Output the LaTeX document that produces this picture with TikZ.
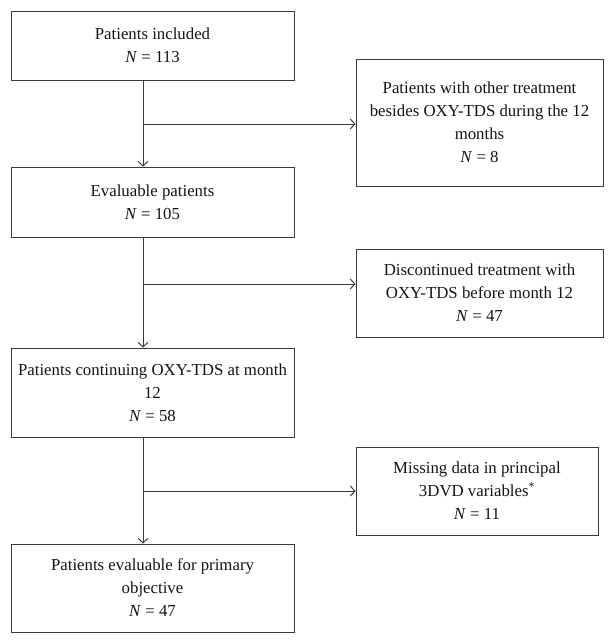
\documentclass[tikz,border=0pt]{standalone}
\usepackage{fontspec}
\setmainfont{Liberation Serif}
\usetikzlibrary{arrows.meta}
\definecolor{linecol}{RGB}{58,58,58}
\definecolor{textcol}{RGB}{20,20,20}
\tikzset{
  box/.style={draw=linecol, line width=1pt, rectangle, inner sep=0pt, align=center,
    text=textcol, font=\fontsize{16.8}{23}\selectfont},
  arr/.style={draw=linecol, line width=1pt, -{Straight Barb[length=4.5pt,width=10pt]}},
  ln/.style={draw=linecol, line width=1pt}
}
\begin{document}
\begin{tikzpicture}[x=1pt,y=1pt]
\useasboundingbox (0,0) rectangle (614,-643);
\node[box, minimum width=283pt, minimum height=69pt] (b1) at (152.5,-45.5)
  {Patients included\\\textit{N} = 113};
\node[box, minimum width=283pt, minimum height=70pt] (b2) at (152.5,-202)
  {Evaluable patients\\\textit{N} = 105};
\node[box, minimum width=283pt, minimum height=89pt] (b3) at (152.5,-392.5)
  {Patients continuing OXY-TDS at month\\12\\\textit{N} = 58};
\node[box, minimum width=283pt, minimum height=88pt] (b4) at (152.5,-588)
  {Patients evaluable for primary\\objective\\\textit{N} = 47};
\node[box, minimum width=247pt, minimum height=127pt] (ba) at (479.5,-122.5)
  {Patients with other treatment\\besides OXY-TDS during the 12\\months\\\textit{N} = 8};
\node[box, minimum width=247pt, minimum height=88pt] (bb) at (479.5,-293)
  {Discontinued treatment with\\OXY-TDS before month 12\\\textit{N} = 47};
\node[box, minimum width=242pt, minimum height=88pt] (bc) at (477,-491)
  {Missing data in principal\\3DVD variables\textsuperscript{*}\\\textit{N} = 11};
\coordinate (sx) at (143,0);
\coordinate (j1) at (143,-124);
\coordinate (j2) at (143,-284);
\coordinate (j3) at (143,-491);
\draw[arr] (b1.south -| sx) -- (b2.north -| sx);
\draw[arr] (b2.south -| sx) -- (b3.north -| sx);
\draw[arr] (b3.south -| sx) -- (b4.north -| sx);
\draw[arr] (j1) -- (j1 -| ba.west);
\draw[arr] (j2) -- (j2 -| bb.west);
\draw[arr] (j3) -- (j3 -| bc.west);
\end{tikzpicture}
\end{document}
